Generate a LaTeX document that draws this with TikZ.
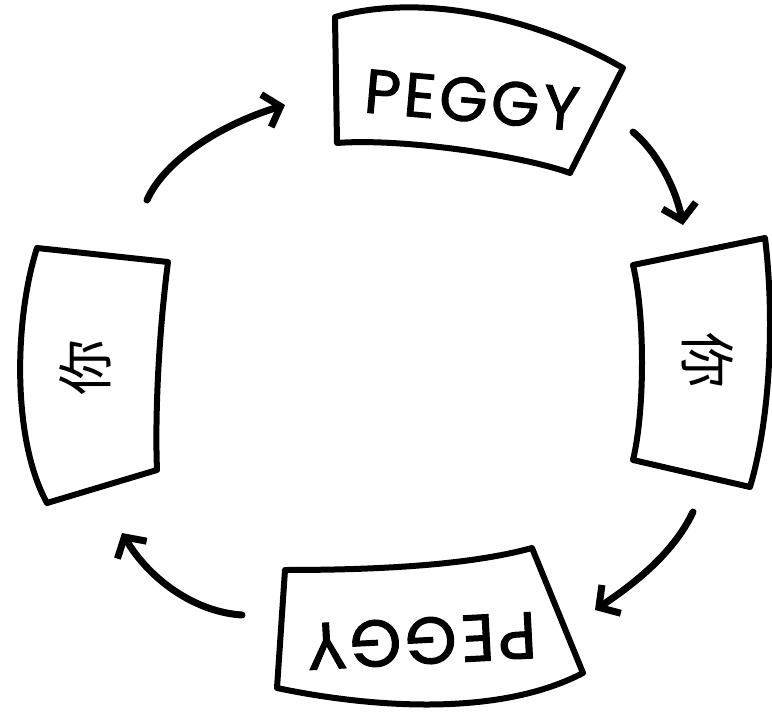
\documentclass[tikz,border=0pt]{standalone}
\usepackage{fontspec}
\usetikzlibrary{arrows.meta}
\newfontfamily\handfont[LetterSpace=6,FakeBold=1.6]{Poppins}
\newfontfamily\cjk{Noto Sans CJK SC}

\begin{document}
\begin{tikzpicture}[
  x=1pt, y=-1pt,
  card/.style={draw, line width=6pt, line join=round, line cap=round},
  cardtext/.style={font=\handfont\fontsize{62pt}{62pt}\selectfont, inner sep=0pt},
  sidetext/.style={font=\cjk\fontsize{56pt}{56pt}\selectfont, inner sep=0pt},
  arrow/.style={-{Straight Barb[length=15pt,width=34pt]}, line width=7pt, line cap=round}
]
\useasboundingbox (0,0) rectangle (772,717);

% cards
\draw[card] (335,17) .. controls (423,-8) and (537,18) .. (623,68) -- (570,173)
  .. controls (520,155) and (400,138) .. (337,143) -- cycle;
\draw[card] (633,265) -- (765,238) .. controls (775,320) and (770,420) .. (750,487)
  -- (633,460) .. controls (645,410) and (645,315) .. cycle;
\draw[card] (285,570) .. controls (380,570) and (470,565) .. (532,548) -- (583,673)
  .. controls (491,721) and (353,704) .. (277,688) -- cycle;
\draw[card] (37,248) -- (168,262) .. controls (158,340) and (155,420) .. (157,470)
  -- (47,503) .. controls (12,440) and (14,320) .. cycle;

% card faces
\node[cardtext, rotate=-5] (peggytop) at (472,100) {PEGGY};
\node[sidetext, rotate=-90] (sideright) at (708,360) {你};
\node[cardtext, rotate=183, font=\handfont\fontsize{66pt}{66pt}\selectfont] (peggybottom) at (422,641) {PEGGY};
\node[sidetext, rotate=90] (sideleft) at (85,367) {你};

% arrow ends
\coordinate (topin) at (147,200);
\coordinate (topout) at (285,105);
\coordinate (rightin) at (633,132);
\coordinate (rightout) at (683,225);
\coordinate (bottomin) at (693,512);
\coordinate (bottomout) at (595,610);
\coordinate (leftin) at (242,615);
\coordinate (leftout) at (122,533);

% turning arrows
\draw[arrow] (topin) .. controls (165,160) and (220,125) .. (topout);
\draw[arrow] (rightin) .. controls (655,150) and (675,185) .. (rightout);
\draw[arrow] (bottomin) .. controls (675,550) and (640,580) .. (bottomout);
\draw[arrow] (leftin) .. controls (195,612) and (150,580) .. (leftout);

\end{tikzpicture}
\end{document}
